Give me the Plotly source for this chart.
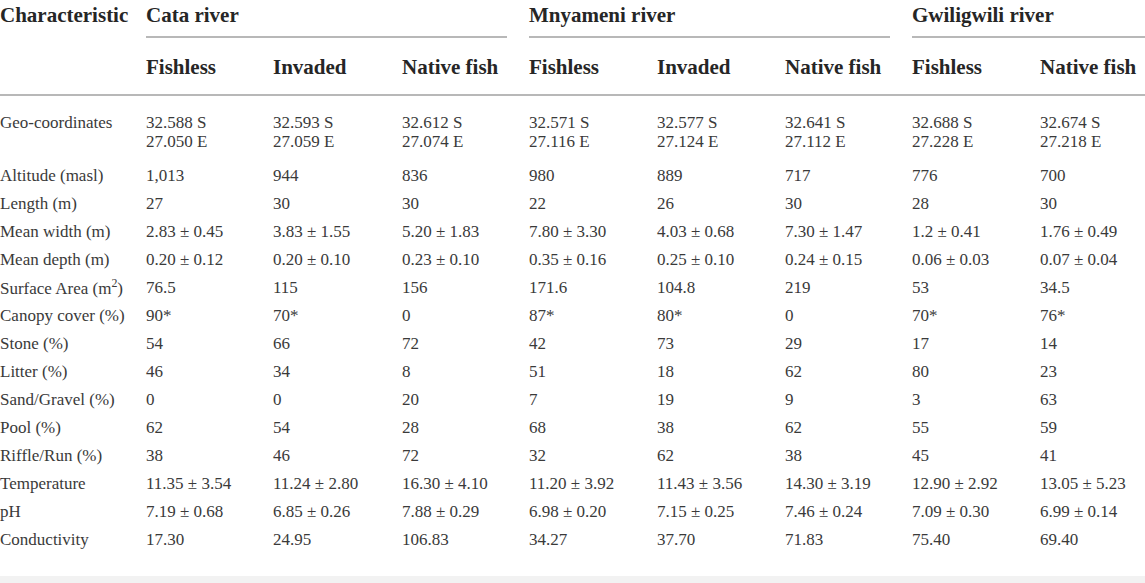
import plotly.graph_objects as go

# Table content
rivers = ["Cata river", "Mnyameni river", "Gwiligwili river"]
river_spans = [(0, 2), (3, 5), (6, 7)]
site_types = ["Fishless", "Invaded", "Native fish",
              "Fishless", "Invaded", "Native fish",
              "Fishless", "Native fish"]

characteristics = ["Altitude (masl)", "Length (m)", "Mean width (m)",
                   "Mean depth (m)", "Surface Area (m<sup>2</sup>)", "Canopy cover (%)",
                   "Stone (%)", "Litter (%)", "Sand/Gravel (%)", "Pool (%)",
                   "Riffle/Run (%)", "Temperature", "pH", "Conductivity"]

geo_lat = ["32.588 S", "32.593 S", "32.612 S", "32.571 S",
           "32.577 S", "32.641 S", "32.688 S", "32.674 S"]
geo_lon = ["27.050 E", "27.059 E", "27.074 E", "27.116 E",
           "27.124 E", "27.112 E", "27.228 E", "27.218 E"]
altitude = ["1,013", "944", "836", "980", "889", "717", "776", "700"]
length = ["27", "30", "30", "22", "26", "30", "28", "30"]
mean_width = ["2.83 ± 0.45", "3.83 ± 1.55", "5.20 ± 1.83", "7.80 ± 3.30",
              "4.03 ± 0.68", "7.30 ± 1.47", "1.2 ± 0.41", "1.76 ± 0.49"]
mean_depth = ["0.20 ± 0.12", "0.20 ± 0.10", "0.23 ± 0.10", "0.35 ± 0.16",
              "0.25 ± 0.10", "0.24 ± 0.15", "0.06 ± 0.03", "0.07 ± 0.04"]
surface_area = ["76.5", "115", "156", "171.6", "104.8", "219", "53", "34.5"]
canopy_cover = ["90*", "70*", "0", "87*", "80*", "0", "70*", "76*"]
stone = ["54", "66", "72", "42", "73", "29", "17", "14"]
litter = ["46", "34", "8", "51", "18", "62", "80", "23"]
sand_gravel = ["0", "0", "20", "7", "19", "9", "3", "63"]
pool = ["62", "54", "28", "68", "38", "62", "55", "59"]
riffle_run = ["38", "46", "72", "32", "62", "38", "45", "41"]
temperature = ["11.35 ± 3.54", "11.24 ± 2.80", "16.30 ± 4.10", "11.20 ± 3.92",
               "11.43 ± 3.56", "14.30 ± 3.19", "12.90 ± 2.92", "13.05 ± 5.23"]
ph = ["7.19 ± 0.68", "6.85 ± 0.26", "7.88 ± 0.29", "6.98 ± 0.20",
      "7.15 ± 0.25", "7.46 ± 0.24", "7.09 ± 0.30", "6.99 ± 0.14"]
conductivity = ["17.30", "24.95", "106.83", "34.27", "37.70", "71.83", "75.40", "69.40"]

rows = [altitude, length, mean_width, mean_depth, surface_area,
        canopy_cover, stone, litter, sand_gravel, pool, riffle_run,
        temperature, ph, conductivity]

# layout in pixel units (axes span the whole page)
W, H = 1145, 583
col_x = [146, 273, 402, 529, 657, 785, 912, 1040]
span_end = [507, 890, 1145]
geo_y = [122, 141]
row_y = [175 + 28 * i for i in range(len(rows))]
body_font = dict(family="Liberation Serif", size=17, color="#3a3a3a")
head_font = dict(family="Liberation Serif", size=21, color="#262626")

fig = go.Figure()
ann = []
# top header row, anchored at its top edge so it stays inside the page
top = [dict(x=0, text="<b>Characteristic</b>")]
for r, (a, b) in zip(rivers, river_spans):
    top.append(dict(x=col_x[a], text="<b>%s</b>" % r))
for t in top:
    t.update(y=0, yanchor="top", yshift=-1, font=head_font)
ann += top
for x, s in zip(col_x, site_types):
    ann.append(dict(x=x, y=67, text="<b>%s</b>" % s, font=head_font))
ann.append(dict(x=0, y=geo_y[0], text="Geo-coordinates", font=body_font))
for x, la, lo in zip(col_x, geo_lat, geo_lon):
    ann.append(dict(x=x, y=geo_y[0], text=la, font=body_font))
    ann.append(dict(x=x, y=geo_y[1], text=lo, font=body_font))
for y, name, vals in zip(row_y, characteristics, rows):
    ann.append(dict(x=0, y=y, text=name, font=body_font))
    for x, v in zip(col_x, vals):
        ann.append(dict(x=x, y=y, text=v, font=body_font))
for a in ann:
    a.setdefault("yanchor", "middle")
    a.update(xref="x", yref="y", xanchor="left",
             showarrow=False, align="left", xshift=-2)
fig.update_layout(annotations=ann)

shapes = []
for (a, b), e in zip(river_spans, span_end):
    shapes.append(dict(type="line", x0=col_x[a], x1=e, y0=37, y1=37,
                       line=dict(color="#a0a0a0", width=1.3)))
shapes.append(dict(type="line", x0=0, x1=W, y0=95, y1=95,
                   line=dict(color="#a0a0a0", width=1.3)))
shapes.append(dict(type="rect", x0=0, x1=W, y0=576, y1=583,
                   fillcolor="#f2f2f2", line=dict(width=0)))
for s in shapes:
    s.update(xref="x", yref="y", layer="below")
fig.update_layout(shapes=shapes)

fig.update_xaxes(range=[0, W], visible=False, fixedrange=True)
fig.update_yaxes(range=[H, 0], visible=False, fixedrange=True)
fig.update_layout(width=W, height=H, margin=dict(l=0, r=0, t=0, b=0),
                  paper_bgcolor="white", plot_bgcolor="white", showlegend=False)

fig.write_html("out.html", config={"displayModeBar": False},
               post_script="document.body.style.margin='0';"
                           "document.body.style.overflow='hidden';")
